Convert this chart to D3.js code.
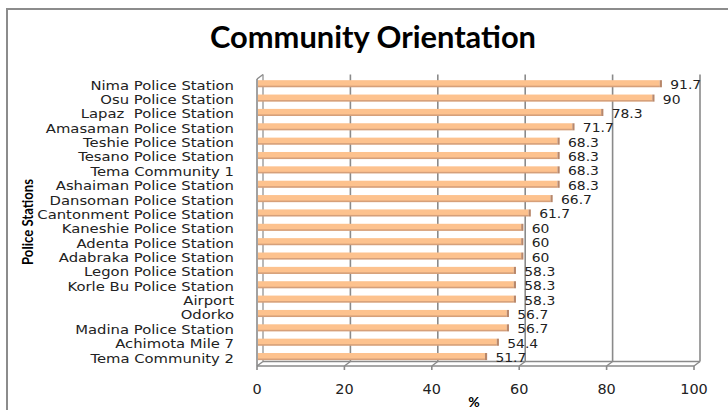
<!DOCTYPE html>
<html><head><meta charset="utf-8">
<script src="https://cdn.jsdelivr.net/npm/d3@7"></script>
<style>body{margin:0;background:#fff}svg{display:block}text{white-space:pre}</style>
</head><body>
<svg id="c" width="728" height="410"></svg>
<script>
const categories = ["Nima Police Station","Osu Police Station","Lapaz  Police Station","Amasaman Police Station","Teshie Police Station","Tesano Police Station","Tema Community 1","Ashaiman Police Station","Dansoman Police Station","Cantonment Police Station","Kaneshie Police Station","Adenta Police Station","Adabraka Police Station","Legon Police Station","Korle Bu Police Station","Airport","Odorko","Madina Police Station","Achimota Mile 7","Tema Community 2"];
const values = [91.7,90,78.3,71.7,68.3,68.3,68.3,68.3,66.7,61.7,60,60,60,58.3,58.3,58.3,56.7,56.7,54.4,51.7];
const xTicks = [0,20,40,60,80,100];
const title = "Community Orientation";
const xTitle = "%";
const yTitle = "Police Stations";

const svg = d3.select("#c");
const font = "'DejaVu Sans', Verdana, sans-serif";
svg.append("rect").attr("x",7).attr("y",9).attr("width",900).attr("height",600)
  .attr("fill","none").attr("stroke","#8c8c8c").attr("stroke-width",2);

const x = d3.scaleLinear().domain([0,100]).range([257,694]);
const dx = 6, dy = -4.5;
const yTop = 79, yBot = 366;
const y = d3.scaleBand().domain(categories).range([76.5,363.7]).padding(0);
const gc = "#8a8a8a";

const g = svg.append("g");
g.selectAll(".grid").data(xTicks.slice(1)).join("line")
  .attr("x1",d=>x(d)+dx).attr("x2",d=>x(d)+dx)
  .attr("y1",yTop+dy).attr("y2",yBot+dy)
  .attr("stroke",gc).attr("stroke-width",1.6);
g.selectAll(".diag").data(xTicks).join("line")
  .attr("x1",d=>x(d)+dx).attr("y1",yBot+dy)
  .attr("x2",d=>x(d)).attr("y2",yBot)
  .attr("stroke",gc).attr("stroke-width",1.4);
g.append("line").attr("x1",x(0)+dx).attr("x2",x(100)+dx).attr("y1",yBot+dy).attr("y2",yBot+dy)
  .attr("stroke",gc).attr("stroke-width",1.4);
g.append("line").attr("x1",x(0)).attr("x2",x(0)).attr("y1",yTop).attr("y2",yBot).attr("stroke",gc).attr("stroke-width",1.6);
g.append("line").attr("x1",x(0)+dx).attr("x2",x(0)+dx).attr("y1",yTop+dy).attr("y2",yBot+dy).attr("stroke",gc).attr("stroke-width",1.2);
g.append("line").attr("x1",x(0)).attr("y1",yTop).attr("x2",x(0)+dx).attr("y2",yTop+dy).attr("stroke",gc).attr("stroke-width",1.4);

const bars = svg.append("g");
categories.forEach((c,i)=>{
  const cy = y(c) + y.bandwidth()/2;
  const x0 = x(0)+1, x1 = x(values[i])+2;
  bars.append("rect").attr("x",x0).attr("y",cy-3.5).attr("width",x1-x0).attr("height",6.5)
    .attr("fill","#fdc28e");
  bars.append("rect").attr("x",x0).attr("y",cy+2).attr("width",x1-x0).attr("height",1.6)
    .attr("fill","#d6a07a");
  bars.append("rect").attr("x",x1).attr("y",cy-3.5).attr("width",2.2).attr("height",7.1)
    .attr("fill","#b8876a");
  bars.append("text").attr("transform",`translate(${x(values[i])+12.5},${cy+5.5}) scale(1.07,1)`)
    .attr("font-family",font).attr("font-size",13).attr("fill","#222")
    .text(values[i]);
});

g.append("line").attr("x1",x(0)).attr("x2",x(100)).attr("y1",yBot).attr("y2",yBot).attr("stroke",gc).attr("stroke-width",1.6);
g.selectAll(".tk").data(xTicks).join("line")
  .attr("x1",d=>x(d)).attr("x2",d=>x(d)).attr("y1",yBot).attr("y2",yBot+4)
  .attr("stroke",gc).attr("stroke-width",1.6);

svg.append("g").selectAll("text").data(xTicks).join("text")
  .attr("transform",d=>`translate(${x(d)},394) scale(1.07,1)`).attr("text-anchor","middle")
  .attr("font-family",font).attr("font-size",13.5).attr("fill","#222").text(d=>d);

svg.append("g").selectAll("text").data(categories).join("text")
  .attr("transform",d=>`translate(234,${y(d)+y.bandwidth()/2+6}) scale(1.14,1)`).attr("text-anchor","end")
  .attr("font-family",font).attr("font-size",13).attr("fill","#222").text(d=>d);

svg.append("text").attr("x",373).attr("y",48).attr("text-anchor","middle")
  .attr("font-family","Lato, 'Open Sans', sans-serif").attr("font-weight","bold").attr("font-size",30)
  .attr("textLength",326).attr("lengthAdjust","spacingAndGlyphs")
  .attr("fill","#000").text(title);
svg.append("text").attr("x",474).attr("y",407).attr("text-anchor","middle")
  .attr("font-family","Lato, sans-serif").attr("font-weight","bold").attr("font-size",14)
  .attr("fill","#000").text(xTitle);
svg.append("text").attr("transform","translate(33,222) rotate(-90)").attr("text-anchor","middle")
  .attr("font-family","Lato, sans-serif").attr("font-weight","bold").attr("font-size",15)
  .attr("textLength",86).attr("lengthAdjust","spacingAndGlyphs")
  .attr("fill","#000").text(yTitle);
</script>
</body></html>
